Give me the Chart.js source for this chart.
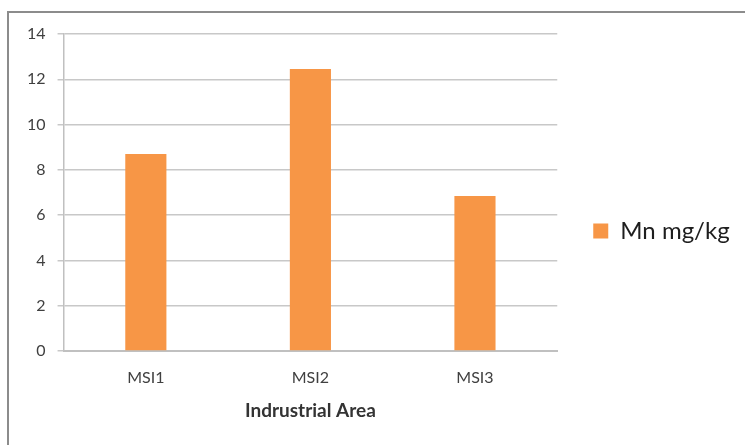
<!DOCTYPE html>
<html>
<head>
  <title>Mn mg/kg by Industrial Area</title>
  <script src="https://cdn.jsdelivr.net/npm/chart.js"></script>
  <style>
    body { margin: 0; background: #fff; }
  </style>
</head>
<body>
  <canvas id="chart" width="745" height="445"></canvas>

  <script>
    const categories = ['MSI1', 'MSI2', 'MSI3'];
    const mnValues = [8.7, 12.45, 6.85];
    const seriesName = 'Mn mg/kg';
    const axisTitle = 'Indrustrial Area';

    // thin frame on top and left like the original screenshot
    const frame = {
      id: 'frame',
      beforeDraw(chart) {
        const c = chart.ctx;
        c.save();
        c.strokeStyle = '#8c8c8c';
        c.lineWidth = 2;
        c.beginPath();
        c.moveTo(745, 12);
        c.lineTo(8, 12);
        c.lineTo(8, 445);
        c.stroke();
        c.restore();
      }
    };

    const ctx = document.getElementById('chart').getContext('2d');
    const chart = new Chart(ctx, {
      type: 'bar',
      data: {
        labels: categories,
        datasets: [{
          label: seriesName,
          data: mnValues,
          backgroundColor: '#F79646',
          borderWidth: 0,
          categoryPercentage: 0.5,
          barPercentage: 0.5
        }]
      },
      options: {
        responsive: false,
        animation: false,
        layout: {
          padding: { top: 34, bottom: 17, left: 15, right: 7 }
        },
        plugins: {
          legend: {
            position: 'right',
            labels: {
              boxWidth: 15,
              boxHeight: 15,
              padding: 36,
              color: '#1e1e1e',
              font: { family: 'Lato', size: 24 }
            }
          },
          tooltip: { enabled: false }
        },
        scales: {
          x: {
            grid: { display: false, drawTicks: false },
            border: { color: '#c0c0c0', width: 2 },
            ticks: {
              padding: 17,
              color: '#404040',
              font: { family: 'Lato', size: 16 }
            },
            title: {
              display: true,
              text: axisTitle,
              color: '#333333',
              padding: { top: -5, bottom: 6 },
              font: { family: 'Lato', size: 19, weight: 'bold' }
            }
          },
          y: {
            min: 0,
            max: 14,
            ticks: {
              stepSize: 2,
              padding: 12,
              color: '#404040',
              font: { family: 'Lato', size: 16 }
            },
            grid: {
              color: '#c8c8c8',
              lineWidth: 1.5,
              tickLength: 6
            },
            border: { color: '#c0c0c0', width: 1.5 }
          }
        }
      },
      plugins: [frame]
    });
  </script>
</body>
</html>
